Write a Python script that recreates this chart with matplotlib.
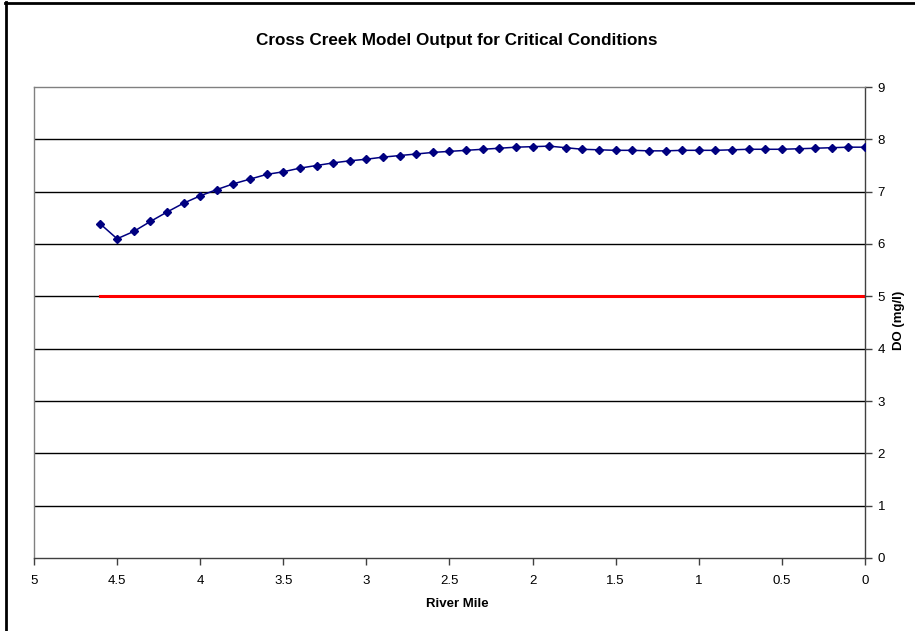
import matplotlib.pyplot as plt
from matplotlib.lines import Line2D

# river mile (x) and dissolved oxygen (y)
river_mile = [4.6, 4.5, 4.4, 4.3, 4.2, 4.1, 4.0, 3.9, 3.8, 3.7, 3.6, 3.5,
              3.4, 3.3, 3.2, 3.1, 3.0, 2.9, 2.8, 2.7, 2.6, 2.5, 2.4, 2.3,
              2.2, 2.1, 2.0, 1.9, 1.8, 1.7, 1.6, 1.5, 1.4, 1.3, 1.2, 1.1,
              1.0, 0.9, 0.8, 0.7, 0.6, 0.5, 0.4, 0.3, 0.2, 0.1, 0.0]
do_mgl = [6.38, 6.10, 6.24, 6.43, 6.61, 6.78, 6.92, 7.04, 7.15, 7.24, 7.33, 7.38,
          7.45, 7.50, 7.55, 7.59, 7.62, 7.66, 7.69, 7.72, 7.75, 7.77, 7.79, 7.81,
          7.83, 7.85, 7.86, 7.87, 7.84, 7.81, 7.80, 7.79, 7.79, 7.78, 7.78, 7.79,
          7.79, 7.79, 7.80, 7.81, 7.81, 7.81, 7.82, 7.83, 7.84, 7.85, 7.85]

# DO standard
std_mile = [4.6, 0.0]
std_do = [5, 5]

x_ticks = [5, 4.5, 4, 3.5, 3, 2.5, 2, 1.5, 1, 0.5, 0]
x_labels = ["5", "4.5", "4", "3.5", "3", "2.5", "2", "1.5", "1", "0.5", "0"]
y_ticks = list(range(0, 10))

plt.rcParams['font.family'] = ['Liberation Sans', 'DejaVu Sans']

fig = plt.figure(figsize=(9.15, 6.31), dpi=100)
ax = fig.add_axes([34/915, 73/631, 831/915, 471/631])

for v in y_ticks[1:-1]:
    ax.axhline(v, color="black", lw=1, zorder=1)

ax.plot(std_mile, std_do, color="#ff0000", lw=2.2, zorder=2)
ax.plot(river_mile, do_mgl, color="#000080", lw=1.1, marker="D", markersize=4.5,
        markeredgecolor="#000080", markerfacecolor="#000080", zorder=3)

ax.set_xlim(5, 0)
ax.set_ylim(0, 9)
ax.set_xticks(x_ticks)
ax.set_xticklabels(x_labels)
ax.set_yticks(y_ticks)

ax.yaxis.tick_right()
ax.yaxis.set_label_position("right")
ax.tick_params(axis="both", labelsize=9.5, length=5, width=1, color="#404040",
               direction="out")
ax.tick_params(axis="x", pad=7)
ax.tick_params(axis="y", pad=4)

for s in ["top", "left"]:
    ax.spines[s].set_color("#808080")
    ax.spines[s].set_linewidth(1)
for s in ["bottom", "right"]:
    ax.spines[s].set_color("#404040")
    ax.spines[s].set_linewidth(1)

ax.set_xlabel("River Mile", fontsize=9.5, fontweight="bold")
ax.set_ylabel("DO (mg/l)", fontsize=9.5, fontweight="bold")
ax.xaxis.set_label_coords(0.5 + 8/831, -46/471)
ax.yaxis.set_label_coords(1 + 34/831, 0.5 + 2/471)
ax.xaxis.label.set_va("center")
ax.yaxis.label.set_va("center")

fig.text(457/915, 1 - 40/631, "Cross Creek Model Output for Critical Conditions",
         ha="center", va="center", fontsize=12.3, fontweight="bold")

# chart frame (only top and left edge visible in the crop)
fig.add_artist(Line2D([6/915, 6/915], [0, 1 - 2/631], transform=fig.transFigure,
                      color="black", lw=2))
fig.add_artist(Line2D([5/915, 1], [1 - 2.5/631, 1 - 2.5/631], transform=fig.transFigure,
                      color="black", lw=2))

plt.savefig("out.png", dpi=100)
